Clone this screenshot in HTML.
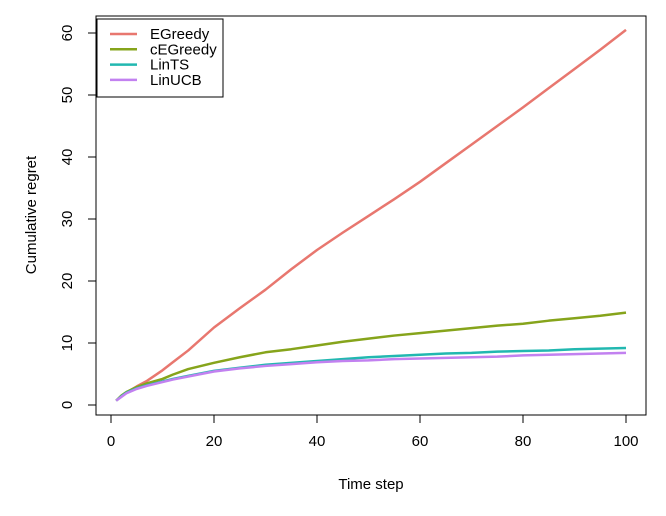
<!DOCTYPE html>
<html><head><meta charset="utf-8"><style>
body{margin:0;background:#fff;}
text{font-family:"Liberation Sans",Arial,sans-serif;}
</style></head><body>
<svg id="chart" width="666" height="511" xmlns="http://www.w3.org/2000/svg">
<g id="plot"></g>
</svg>
<script>
const steps=[1,2,3,5,7,10,12,15,20,25,30,35,40,45,50,55,60,65,70,75,80,85,90,95,100];
const egreedy=[0.7,1.4,2.0,3.0,3.9,5.6,6.9,8.8,12.5,15.6,18.6,21.9,25.0,27.8,30.5,33.2,36.0,39.0,42.0,45.0,48.0,51.1,54.2,57.3,60.5];
const cegreedy=[0.7,1.5,2.1,2.9,3.5,4.2,4.9,5.8,6.8,7.7,8.5,9.0,9.6,10.2,10.7,11.2,11.6,12.0,12.4,12.8,13.1,13.6,14.0,14.4,14.9];
const lints=[0.7,1.4,2.0,2.7,3.2,3.8,4.2,4.7,5.5,6.0,6.5,6.8,7.1,7.4,7.7,7.9,8.1,8.3,8.4,8.6,8.7,8.8,9.0,9.1,9.2];
const linucb=[0.7,1.3,1.9,2.6,3.1,3.7,4.1,4.6,5.4,5.9,6.3,6.6,6.9,7.1,7.2,7.4,7.5,7.6,7.7,7.8,8.0,8.1,8.2,8.3,8.4];
const seriesNames=["EGreedy","cEGreedy","LinTS","LinUCB"];
const seriesData=[egreedy,cegreedy,lints,linucb];
const colors=["#e8776f","#86a41b","#22b8b0","#c281f0"];
const xTicks=[0,20,40,60,80,100];
const yTicks=[0,10,20,30,40,50,60];
const X=v=>111+v*5.15, Y=v=>405-v*6.2;
const NS="http://www.w3.org/2000/svg", g=document.getElementById('plot');
function mk(t,a,p){const e=document.createElementNS(NS,t);for(const k in a)e.setAttribute(k,a[k]);(p||g).appendChild(e);return e;}
const box=mk('rect',{x:96,y:16,width:550,height:399,fill:'none',stroke:'#000','stroke-width':1});


xTicks.forEach(v=>{
 const l=mk('line',{x1:X(v),x2:X(v),y1:415,y2:423,stroke:'#000'});
 
 
 const t=mk('text',{x:X(v),y:446,'text-anchor':'middle','font-size':15});t.textContent=v;
 
 
});
yTicks.forEach(v=>{
 const l=mk('line',{x1:88,x2:96,y1:Y(v),y2:Y(v),stroke:'#000'});
 
 
 const t=mk('text',{x:0,y:0,'text-anchor':'middle','font-size':15,transform:`translate(72,${Y(v)}) rotate(-90)`});t.textContent=v;
 
 
});
const xt=mk('text',{x:371,y:489,'text-anchor':'middle','font-size':15});xt.textContent='Time step';


const yt=mk('text',{x:0,y:0,'text-anchor':'middle','font-size':15,transform:'translate(36,215) rotate(-90)'});yt.textContent='Cumulative regret';


seriesData.forEach((d,i)=>{
 const p=mk('polyline',{points:d.map((v,j)=>X(steps[j])+','+Y(v)).join(' '),fill:'none',stroke:colors[i],'stroke-width':2.5,'stroke-linejoin':'round'});
 
 
});
const lg=mk('rect',{x:97,y:19,width:126,height:78,fill:'#fff',stroke:'#000'});


seriesNames.forEach((n,i)=>{
 const y=34+i*15.3;
 const l=mk('line',{x1:110,x2:137,y1:y,y2:y,stroke:colors[i],'stroke-width':2.5});
 
 
 const t=mk('text',{x:150,y:y+5,'font-size':15});t.textContent=n;
 
 
});
</script>
</body></html>
